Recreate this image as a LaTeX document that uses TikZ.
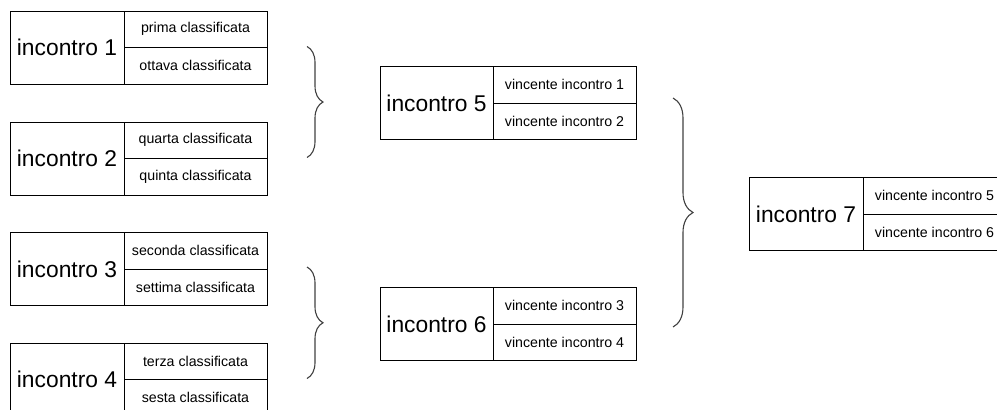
\documentclass[tikz,border=0pt]{standalone}
\usepackage{fontspec}
\setmainfont{Liberation Sans}
\usetikzlibrary{decorations.pathreplacing}

\tikzset{
    match/.style={draw, line width=1pt, minimum width=114pt, minimum height=73pt,
        inner sep=0pt, outer sep=0pt, font=\fontsize{22.8}{24}\selectfont},
    seat/.style={draw, line width=1pt, minimum width=143pt, minimum height=36.5pt,
        inner sep=0pt, outer sep=0pt, font=\fontsize{14.2}{16}\selectfont},
    curly/.style={decorate, decoration={brace, amplitude=#1}, line width=1.1pt, draw=black!75}
}

\begin{document}
\begin{tikzpicture}[x=1pt,y=-1pt]
    \useasboundingbox (0,0) rectangle (997,410);

    % first round
    \node[match] (m1) at (67,47.5) {incontro 1};
    \node[seat, anchor=south west] (m1a) at (m1.east) {prima classificata};
    \node[seat, anchor=north west] (m1b) at (m1.east) {ottava classificata};

    \node[match] (m2) at (67,158.5) {incontro 2};
    \node[seat, anchor=south west] (m2a) at (m2.east) {quarta classificata};
    \node[seat, anchor=north west] (m2b) at (m2.east) {quinta classificata};

    \node[match] (m3) at (67,269) {incontro 3};
    \node[seat, anchor=south west] (m3a) at (m3.east) {seconda classificata};
    \node[seat, anchor=north west] (m3b) at (m3.east) {settima classificata};

    \node[match] (m4) at (67,379.5) {incontro 4};
    \node[seat, anchor=south west] (m4a) at (m4.east) {terza classificata};
    \node[seat, anchor=north west] (m4b) at (m4.east) {sesta classificata};

    % semifinals
    \node[match, minimum width=113pt] (m5) at (436.5,103) {incontro 5};
    \node[seat, anchor=south west] (m5a) at (m5.east) {vincente incontro 1};
    \node[seat, anchor=north west] (m5b) at (m5.east) {vincente incontro 2};

    \node[match, minimum width=113pt] (m6) at (436.5,324) {incontro 6};
    \node[seat, anchor=south west] (m6a) at (m6.east) {vincente incontro 3};
    \node[seat, anchor=north west] (m6b) at (m6.east) {vincente incontro 4};

    % final
    \node[match] (m7) at (806,214) {incontro 7};
    \node[seat, anchor=south west] (m7a) at (m7.east) {vincente incontro 5};
    \node[seat, anchor=north west] (m7b) at (m7.east) {vincente incontro 6};

    % braces
    \draw[curly=16pt] ([xshift=40pt,yshift=1pt]m1a.south east) -- ([xshift=40pt,yshift=1pt]m2a.south east);
    \draw[curly=16pt] ([xshift=40pt,yshift=2pt]m3a.south east) -- ([xshift=40pt,yshift=1pt]m4a.south east);
    \draw[curly=20pt] ([xshift=37pt,yshift=5pt]m5a.south east) -- ([xshift=37pt,yshift=-3pt]m6a.south east);
\end{tikzpicture}
\end{document}
